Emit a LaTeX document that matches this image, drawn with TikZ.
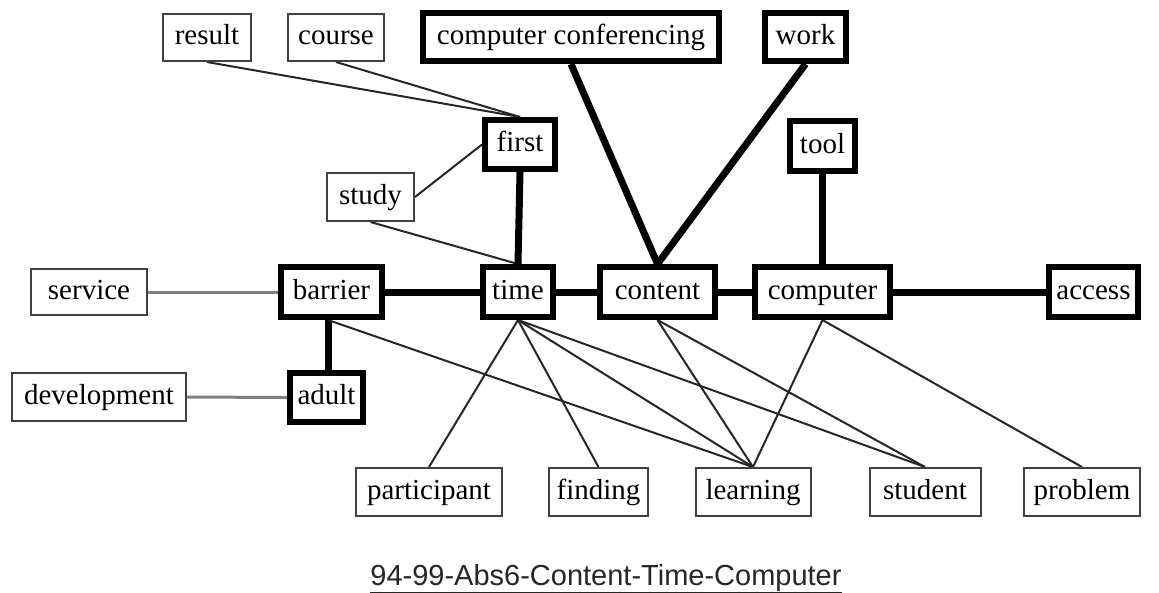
\documentclass[tikz,border=0pt]{standalone}
\usepackage{fontspec}
\setmainfont{Liberation Serif}
\newfontfamily\capfont{Liberation Sans}
\begin{document}
\begin{tikzpicture}[x=1pt,y=-1pt,
  every node/.style={font=\fontsize{29}{32}\selectfont, text height=19pt, text depth=5pt, inner sep=0pt},
  thinbox/.style={draw=black!75, line width=2pt, fill=white},
  thickbox/.style={draw=black, line width=6pt, fill=white},
  thinedge/.style={draw=black!85, line width=2pt},
  thickedge/.style={draw=black, line width=7pt},
  grayedge/.style={draw=black!50, line width=3pt}]
\useasboundingbox (0,0) rectangle (1159,592);
\fill[white] (0,0) rectangle (1159,592);
% edge end points on the box borders
\coordinate (resultS) at (207,62);
\coordinate (courseS) at (336,62);
\coordinate (ccS) at (571,64);
\coordinate (workS) at (805.5,64);
\coordinate (firstN) at (520,117);
\coordinate (firstS) at (520,172);
\coordinate (firstW) at (482,144.5);
\coordinate (studyE) at (415,197);
\coordinate (studyS) at (370.5,222);
\coordinate (toolS) at (822.5,174);
\coordinate (serviceE) at (148,292);
\coordinate (barrierW) at (278,292);
\coordinate (barrierE) at (385,292);
\coordinate (barrierS) at (328,320);
\coordinate (timeN) at (518,264);
\coordinate (timeW) at (480,292);
\coordinate (timeE) at (556,292);
\coordinate (timeS) at (518,320);
\coordinate (contentN) at (657.5,264);
\coordinate (contentW) at (597,292);
\coordinate (contentE) at (718,292);
\coordinate (contentS) at (657.5,320);
\coordinate (computerN) at (822.5,264);
\coordinate (computerW) at (752,292);
\coordinate (computerE) at (893,292);
\coordinate (computerS) at (822.5,320);
\coordinate (accessW) at (1046,292);
\coordinate (developmentE) at (187,397);
\coordinate (adultN) at (328,370);
\coordinate (adultW) at (287,397.5);
\coordinate (participantN) at (429,467);
\coordinate (findingN) at (598.5,467);
\coordinate (learningN) at (753,467);
\coordinate (studentN) at (925,467);
\coordinate (problemN) at (1082,467);

\draw[thinedge] (resultS) -- (firstN);
\draw[thinedge] (courseS) -- (firstN);
\draw[thinedge] (studyE) -- (firstW);
\draw[thinedge] (studyS) -- (timeN);
\draw[thickedge] (firstS) -- (timeN);
\draw[thickedge] (ccS) -- (contentN);
\draw[thickedge] (workS) -- (contentN);
\draw[thickedge] (toolS) -- (computerN);
\draw[grayedge] (serviceE) -- (barrierW);
\draw[thickedge] (barrierE) -- (timeW);
\draw[thickedge] (timeE) -- (contentW);
\draw[thickedge] (contentE) -- (computerW);
\draw[thickedge] (computerE) -- (accessW);
\draw[thickedge] (barrierS) -- (adultN);
\draw[grayedge] (developmentE) -- (adultW);
\draw[thinedge] (barrierS) -- (learningN);
\draw[thinedge] (timeS) -- (participantN);
\draw[thinedge] (timeS) -- (findingN);
\draw[thinedge] (timeS) -- (learningN);
\draw[thinedge] (timeS) -- (studentN);
\draw[thinedge] (contentS) -- (learningN);
\draw[thinedge] (contentS) -- (studentN);
\draw[thinedge] (computerS) -- (learningN);
\draw[thinedge] (computerS) -- (problemN);

% nodes
\node[thinbox, minimum width=88, minimum height=47] (result) at (207,37.5) {result};
\node[thinbox, minimum width=96, minimum height=47] (course) at (336,37.5) {course};
\node[thickbox, minimum width=296, minimum height=48] (cc) at (571,37) {computer conferencing};
\node[thickbox, minimum width=81, minimum height=48] (work) at (805.5,37) {work};
\node[thickbox, minimum width=70, minimum height=49] (first) at (520,144.5) {first};
\node[thinbox, minimum width=87, minimum height=48] (study) at (370.5,197) {study};
\node[thickbox, minimum width=65, minimum height=50] (tool) at (822.5,146) {tool};
\node[thinbox, minimum width=116, minimum height=46] (service) at (89,292) {service};
\node[thickbox, minimum width=101, minimum height=50] (barrier) at (331.5,292) {barrier};
\node[thickbox, minimum width=70, minimum height=50] (time) at (518,292) {time};
\node[thickbox, minimum width=115, minimum height=50] (content) at (657.5,292) {content};
\node[thickbox, minimum width=135, minimum height=50] (computer) at (822.5,292) {computer};
\node[thickbox, minimum width=89, minimum height=50] (access) at (1093.5,292) {access};
\node[thinbox, minimum width=174, minimum height=48] (development) at (99,397) {development};
\node[thickbox, minimum width=73, minimum height=49] (adult) at (326.5,397.5) {adult};
\node[thinbox, minimum width=146, minimum height=48] (participant) at (429,492) {participant};
\node[thinbox, minimum width=99, minimum height=48] (finding) at (598.5,492) {finding};
\node[thinbox, minimum width=115, minimum height=48] (learning) at (753,492) {learning};
\node[thinbox, minimum width=111, minimum height=48] (student) at (925,492) {student};
\node[thinbox, minimum width=116, minimum height=48] (problem) at (1082,492) {problem};

\node[font=\capfont\fontsize{29}{32}\selectfont, text=black!85, text height=21pt, text depth=3pt] (caption) at (606,576) {\underline{94-99-Abs6-Content-Time-Computer}};
\end{tikzpicture}
\end{document}
